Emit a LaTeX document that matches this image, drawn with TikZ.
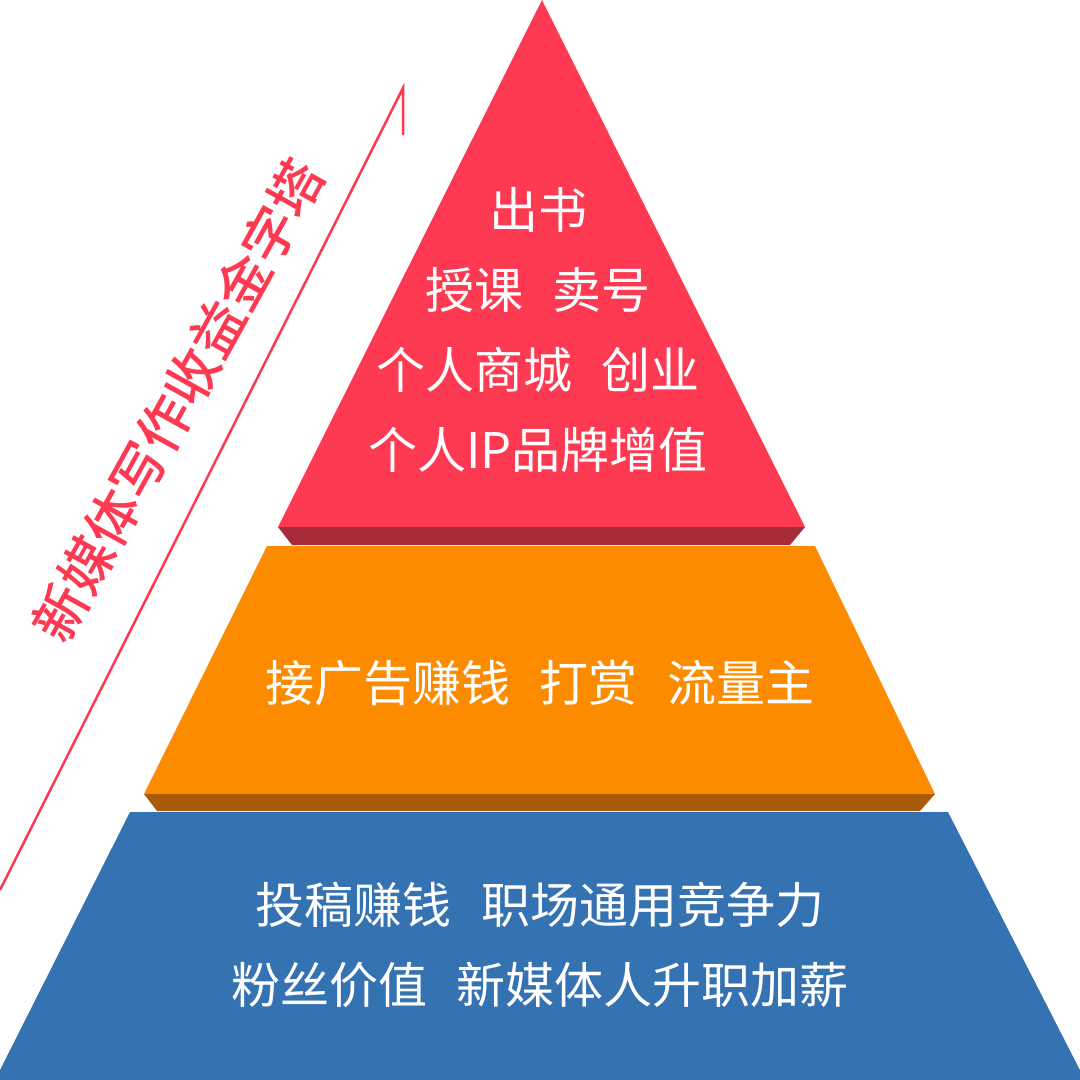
\documentclass[tikz,border=0pt]{standalone}
\usepackage{fontspec}
\newfontfamily\cjk{Noto Sans CJK SC}
\newfontfamily\cjkbold{Noto Sans CJK SC Medium}
\definecolor{pyred}{HTML}{FD3A52}
\definecolor{pyreddark}{HTML}{A82B3A}
\definecolor{pyorange}{HTML}{FC8B00}
\definecolor{pyorangedark}{HTML}{A85C0A}
\definecolor{pyblue}{HTML}{3572B1}
\tikzset{
  tier/.style={white, font=\cjk\fontsize{49}{80}\selectfont, align=center},
}
\newcommand\gap{\hspace{30pt}}
\begin{document}
\begin{tikzpicture}[x=1pt, y=-1pt]
\useasboundingbox (0,0) rectangle (1080,1080);

% red top
\fill[pyred] (542,0)--(805,527)--(278,527)--cycle;
\fill[pyreddark] (278,527)--(805,527)--(790,545)--(292,545)--cycle;
% orange middle
\fill[pyorange] (267,546)--(815,546)--(935,794)--(144,794)--cycle;
\fill[pyorangedark] (144,794)--(935,794)--(920,811)--(157,811)--cycle;
% blue bottom
\fill[pyblue] (130,812)--(948,812)--(1085,1080)--(-5,1080)--cycle;

\node[tier] (top) at (538,330) {出书\\授课\gap 卖号\\个人商城\gap 创业\\个人IP品牌增值};
\node[tier] (mid) at (540,683) {接广告赚钱\gap 打赏\gap 流量主};
\node[tier] (low) at (540,945) {投稿赚钱\gap 职场通用竞争力\\粉丝价值\gap 新媒体人升职加薪};

% side title
\coordinate (lineA) at (0,890);
\coordinate (lineB) at (403,88);
\coordinate (lineC) at (403,135);
\draw[pyred, line width=2.5pt] (lineA)--(lineB)--(lineC);
\node[pyred, rotate=61, font=\cjkbold\fontsize{54}{54}\selectfont] (title) at (178,400) {新媒体写作收益金字塔};
\end{tikzpicture}
\end{document}
